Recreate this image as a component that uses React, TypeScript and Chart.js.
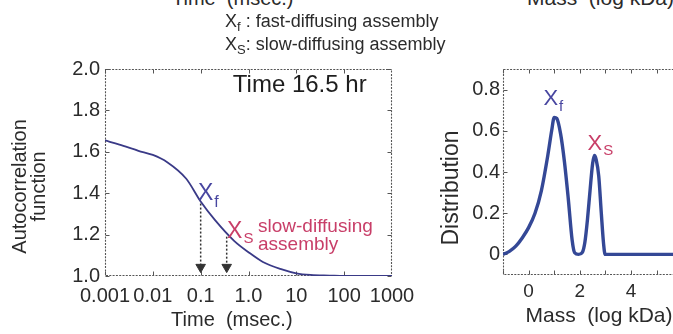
import React, { useEffect, useRef } from 'react';
import { Chart, registerables } from 'chart.js';

Chart.register(...registerables);

const FONT = '"Liberation Sans", Arial, Helvetica, sans-serif';
const INK = '#2b2b2b';
const FRAME = '#555555';
const BLUE_LINE_L = 'rgb(58, 58, 135)';
const BLUE_LINE_R = 'rgb(52, 72, 150)';
const BLUE_TEXT = 'rgb(72, 70, 160)';
const RED_TEXT = 'rgb(200, 62, 104)';

// ---------- Left panel: autocorrelation function vs time (msec) ----------
const timeMs = [0.001, 0.002, 0.005, 0.01, 0.02, 0.05, 0.1, 0.2, 0.5, 1, 2, 5, 10, 20, 50, 100, 1000];
const autocorr = [1.655, 1.635, 1.605, 1.585, 1.55, 1.47, 1.36, 1.27, 1.17, 1.115, 1.068, 1.032, 1.013, 1.005, 1.002, 1.0, 1.0];
const timeTicks = [0.001, 0.01, 0.1, 1, 10, 100, 1000];
const timeTickLabels = ['0.001', '0.01', '0.1', '1.0', '10', '100', '1000'];
const acfTicks = [1.0, 1.2, 1.4, 1.6, 1.8, 2.0];
const acfTickLabels = ['1.0', '1.2', '1.4', '1.6', '1.8', '2.0'];
const arrowTimes = [0.1, 0.35];
const arrowStarts = [1.35, 1.19];
const arrowEnd = 1.043;

// ---------- Right panel: distribution vs mass (log kDa) ----------
const massLogKDa = [-1, -0.75, -0.5, -0.25, 0, 0.25, 0.5, 0.75, 0.9, 1.0, 1.1, 1.25, 1.4, 1.55, 1.7, 1.8, 1.95, 2.1, 2.2, 2.3, 2.4, 2.5, 2.57, 2.64, 2.74, 2.84, 2.93, 2.99, 3.2, 6.5];
const distribution = [0.0, 0.015, 0.04, 0.08, 0.13, 0.2, 0.31, 0.48, 0.6, 0.665, 0.66, 0.585, 0.45, 0.27, 0.07, 0.008, 0.0, 0.01, 0.06, 0.17, 0.31, 0.44, 0.48, 0.46, 0.38, 0.2, 0.05, 0.0, 0.0, 0.0];
const massTicks = [-1, 0, 1, 2, 3, 4, 5, 6];
const massTickLabels = ['', '0', '', '2', '', '4', '', '6'];
const distTicks = [0, 0.2, 0.4, 0.6, 0.8];
const distTickLabels = ['0', '0.2', '0.4', '0.6', '0.8'];

type Note = { x: number; y: number; text: string; sub?: string; size: number; subSize?: number; subDy?: number; color: string };

const leftNotes: Note[] = [
  { x: 0.47, y: 1.889, text: 'Time 16.5 hr', size: 24, color: '#1e1e1e' },
  { x: 0.088, y: 1.367, text: 'X', sub: 'f', size: 23, subSize: 16, subDy: 7, color: BLUE_TEXT },
  { x: 0.356, y: 1.184, text: 'X', sub: 'S', size: 23, subSize: 15, subDy: 5, color: RED_TEXT },
  { x: 1.58, y: 1.213, text: 'slow-diffusing', size: 19, color: RED_TEXT },
  { x: 1.58, y: 1.126, text: 'assembly', size: 19, color: RED_TEXT },
];

const rightNotes: Note[] = [
  { x: 0.58, y: 0.725, text: 'X', sub: 'f', size: 22, subSize: 15, subDy: 6, color: BLUE_TEXT },
  { x: 2.3, y: 0.507, text: 'X', sub: 'S', size: 22, subSize: 15, subDy: 5, color: RED_TEXT },
];

function notesPlugin(id: string, notes: Note[]) {
  return {
    id,
    afterDatasetsDraw(chart: any) {
      const { ctx, scales } = chart;
      notes.forEach((n) => {
        const px = scales.x.getPixelForValue(n.x);
        const py = scales.y.getPixelForValue(n.y);
        ctx.save();
        ctx.fillStyle = n.color;
        ctx.textBaseline = 'alphabetic';
        ctx.textAlign = 'left';
        ctx.font = `${n.size}px ${FONT}`;
        ctx.fillText(n.text, px, py);
        if (n.sub) {
          const w = ctx.measureText(n.text).width;
          ctx.font = `${n.subSize}px ${FONT}`;
          ctx.fillText(n.sub, px + w + 1, py + (n.subDy || 0));
        }
        ctx.restore();
      });
    },
  };
}

// Dotted box around the plot with small inward tick marks on all four sides,
// placed through the chart's own scales.
function framePlugin(id: string, xTicks: number[], yTicks: number[]) {
  return {
    id,
    beforeDatasetsDraw(chart: any) {
      const { ctx, chartArea: a, scales } = chart;
      const L = Math.round(a.left) + 0.5;
      const R = Math.round(a.right) - 0.5;
      const T = Math.round(a.top) + 0.5;
      const B = Math.round(a.bottom) - 0.5;
      ctx.save();
      ctx.strokeStyle = FRAME;
      ctx.lineWidth = 1.1;
      ctx.setLineDash([2, 1.3]);
      ctx.beginPath();
      ctx.moveTo(L, T); ctx.lineTo(R, T); ctx.lineTo(R, B); ctx.lineTo(L, B); ctx.closePath();
      ctx.stroke();
      ctx.setLineDash([]);
      ctx.lineWidth = 1;
      ctx.beginPath();
      xTicks.forEach((v) => {
        const x = Math.round(scales.x.getPixelForValue(v)) + 0.5;
        if (x < L || x > R) return;
        ctx.moveTo(x, B); ctx.lineTo(x, B - 4);
        ctx.moveTo(x, T); ctx.lineTo(x, T + 4);
      });
      yTicks.forEach((v) => {
        const y = Math.round(scales.y.getPixelForValue(v)) + 0.5;
        ctx.moveTo(L, y); ctx.lineTo(L + 4, y);
        ctx.moveTo(R, y); ctx.lineTo(R - 4, y);
      });
      ctx.stroke();
      ctx.restore();
    },
  };
}

const noGrid = { display: false, drawOnChartArea: false, drawTicks: false, tickLength: 0 };
const noBorder = { display: false };

export default function App() {
  const leftRef = useRef<HTMLCanvasElement>(null);
  const rightRef = useRef<HTMLCanvasElement>(null);

  useEffect(() => {
    Chart.defaults.font.family = FONT;
    Chart.defaults.color = INK;

    const arrowSets = arrowTimes.map((t, i) => ({
      data: [
        { x: t, y: arrowStarts[i] },
        { x: t, y: arrowEnd },
      ],
      borderColor: '#333',
      borderWidth: 1.5,
      borderDash: [2, 2],
      pointRadius: [0, 5.5],
      pointStyle: 'triangle',
      pointRotation: 180,
      pointBackgroundColor: '#333',
      pointBorderColor: '#333',
      pointBorderWidth: 1,
      fill: false,
    }));

    const left = new Chart(leftRef.current as HTMLCanvasElement, {
      type: 'line',
      data: {
        datasets: [
          {
            data: timeMs.map((t, i) => ({ x: t, y: autocorr[i] })),
            borderColor: BLUE_LINE_L,
            borderWidth: 1.8,
            pointRadius: 0,
            cubicInterpolationMode: 'monotone',
            fill: false,
          },
          ...arrowSets,
        ] as any,
      },
      options: {
        responsive: false,
        animation: false,
        devicePixelRatio: 1,
        layout: { padding: { top: 69, right: 38, bottom: 0, left: 0 } },
        plugins: { legend: { display: false }, tooltip: { enabled: false } },
        scales: {
          x: {
            type: 'logarithmic',
            position: 'bottom',
            min: 0.001,
            max: 1000,
            afterBuildTicks: (s: any) => { s.ticks = timeTicks.map((v) => ({ value: v })); },
            afterFit: (s: any) => { s.height = 58; },
            ticks: {
              autoSkip: false, maxRotation: 0, minRotation: 0, padding: 8.5, color: INK,
              font: { size: 20 },
              callback: (_v: any, i: number) => timeTickLabels[i],
            },
            grid: noGrid,
            border: noBorder,
            title: { display: true, text: 'Time  (msec.)      ', color: INK, font: { size: 20 }, padding: { top: 0, bottom: 2 } },
          },
          y: {
            type: 'linear',
            position: 'left',
            min: 1.0,
            max: 2.0,
            afterBuildTicks: (s: any) => { s.ticks = acfTicks.map((v) => ({ value: v })); },
            afterFit: (s: any) => { s.width = 105; },
            ticks: {
              autoSkip: false, padding: 5, color: INK, font: { size: 20 },
              callback: (_v: any, i: number) => acfTickLabels[i],
            },
            grid: noGrid,
            border: noBorder,
            title: {
              display: true,
              text: ['Autocorrelation     ', 'function     '],
              color: INK,
              font: { size: 20, lineHeight: 0.95 },
              padding: { top: 11, bottom: 0 },
            },
          },
        } as any,
      },
      plugins: [framePlugin('leftFrame', timeTicks, acfTicks), notesPlugin('leftNotes', leftNotes)],
    } as any);

    const right = new Chart(rightRef.current as HTMLCanvasElement, {
      type: 'line',
      data: {
        datasets: [
          {
            data: massLogKDa.map((m, i) => ({ x: m, y: distribution[i] })),
            borderColor: BLUE_LINE_R,
            borderWidth: 3.4,
            pointRadius: 0,
            cubicInterpolationMode: 'monotone',
            fill: false,
          },
        ] as any,
      },
      options: {
        responsive: false,
        animation: false,
        devicePixelRatio: 1,
        layout: { padding: { top: 69, right: 15, bottom: 0, left: 0 } },
        plugins: { legend: { display: false }, tooltip: { enabled: false } },
        scales: {
          x: {
            type: 'linear',
            position: 'bottom',
            min: -1,
            max: 6.5,
            afterBuildTicks: (s: any) => { s.ticks = massTicks.map((v) => ({ value: v })); },
            afterFit: (s: any) => { s.height = 59; },
            ticks: {
              autoSkip: false, maxRotation: 0, minRotation: 0, padding: 5.5, color: INK,
              font: { size: 19 },
              callback: (_v: any, i: number) => massTickLabels[i],
            },
            grid: noGrid,
            border: noBorder,
            title: { display: true, text: 'Mass  (log kDa)', color: INK, font: { size: 21 }, padding: { top: 0, bottom: 5 } },
          },
          y: {
            type: 'linear',
            position: 'left',
            min: -0.1,
            max: 0.9,
            afterBuildTicks: (s: any) => { s.ticks = distTicks.map((v) => ({ value: v })); },
            afterFit: (s: any) => { s.width = 73; },
            ticks: {
              autoSkip: false, padding: 3, color: INK, font: { size: 20 },
              callback: (_v: any, i: number) => distTickLabels[i],
            },
            grid: noGrid,
            border: noBorder,
            title: {
              display: true,
              text: 'Distribution     ',
              color: INK,
              font: { size: 23 },
              padding: { top: 8, bottom: 0 },
            },
          },
        } as any,
      },
      plugins: [framePlugin('rightFrame', massTicks, distTicks), notesPlugin('rightNotes', rightNotes)],
    } as any);

    return () => {
      left.destroy();
      right.destroy();
    };
  }, []);

  const subStyle: React.CSSProperties = { fontSize: 13, position: 'relative', top: 4, lineHeight: 0 };

  return (
    <div
      style={{
        position: 'absolute', left: 0, top: 0, width: 673, height: 334, overflow: 'hidden',
        background: '#ffffff', fontFamily: FONT, color: INK,
      }}
    >
      <div style={{ position: 'absolute', left: 172, top: -12, fontSize: 20, lineHeight: '20px', whiteSpace: 'pre' }}>
        {'Time  (msec.)'}
      </div>
      <div style={{ position: 'absolute', left: 527, top: -13, fontSize: 21, lineHeight: '21px', whiteSpace: 'pre' }}>
        {'Mass  (log kDa)'}
      </div>
      <canvas
        ref={leftRef}
        width={430}
        height={334}
        style={{ position: 'absolute', left: 0, top: 0, width: 430, height: 334 }}
      />
      <canvas
        ref={rightRef}
        width={280}
        height={334}
        style={{ position: 'absolute', left: 430, top: 0, width: 280, height: 334 }}
      />
      <div style={{ position: 'absolute', left: 225, top: 10, fontSize: 18, lineHeight: '23px', whiteSpace: 'pre' }}>
        <div>X<span style={subStyle}>f</span> : fast-diffusing assembly</div>
        <div>X<span style={subStyle}>S</span>: slow-diffusing assembly</div>
      </div>
    </div>
  );
}
